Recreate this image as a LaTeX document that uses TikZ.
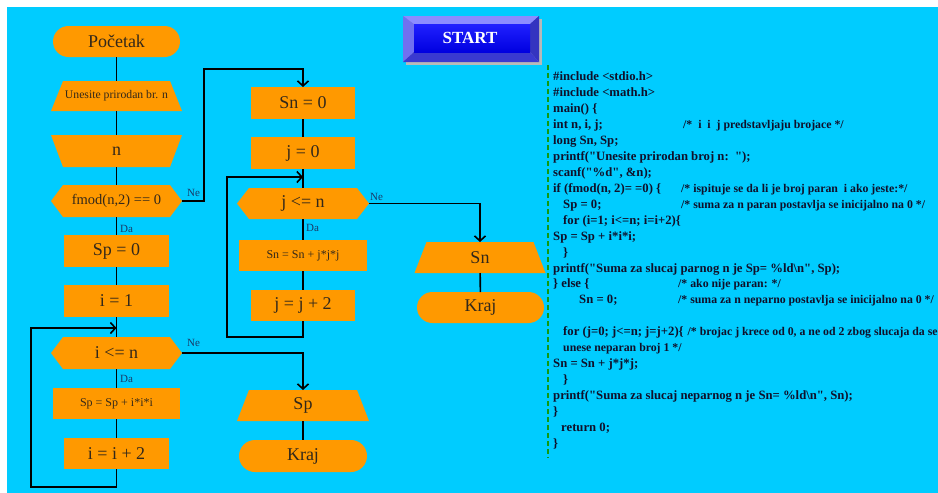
\documentclass[tikz,border=0pt]{standalone}
\usepackage{fontspec}
\setmainfont{Liberation Serif}
\usetikzlibrary{arrows.meta,calc,backgrounds}

\definecolor{bgcyan}{HTML}{00CCFF}
\definecolor{boxorange}{HTML}{FF9900}
\definecolor{boxtext}{HTML}{33281A}
\definecolor{labelblue}{HTML}{1A3A66}
\definecolor{codetext}{HTML}{10102A}
\definecolor{dashgreen}{HTML}{119911}
\definecolor{bevtop}{HTML}{8C8CFF}
\definecolor{bevleft}{HTML}{7070F0}
\definecolor{bevright}{HTML}{3434C0}
\definecolor{bevbot}{HTML}{3A3AD0}
\definecolor{facetop}{HTML}{2020FF}
\definecolor{facebot}{HTML}{0000E0}

% filled outlines for decision hexagons and input/output trapezoids
\newcommand{\hexfill}[1]{\fill[boxorange] (#1.west) -- ($(#1.north west)+(12,0)$) -- ($(#1.north east)+(-12,0)$) -- (#1.east) -- ($(#1.south east)+(-12,0)$) -- ($(#1.south west)+(12,0)$) -- cycle;}
\newcommand{\trapwidebottom}[1]{\fill[boxorange] ($(#1.north west)+(12,0)$) -- ($(#1.north east)+(-12,0)$) -- (#1.south east) -- (#1.south west) -- cycle;}
\newcommand{\trapwidetop}[1]{\fill[boxorange] (#1.north west) -- (#1.north east) -- ($(#1.south east)+(-12,0)$) -- ($(#1.south west)+(12,0)$) -- cycle;}
% straight double quote for the listing
\newcommand{\dq}{\textquotedbl}

\begin{document}
\begin{tikzpicture}[x=1pt,y=-1pt,
  base/.style={inner sep=0pt, outer sep=0pt, text=boxtext, align=center,
    font=\fontsize{18}{20}\selectfont},
  procbox/.style={base, fill=boxorange, minimum height=32pt},
  termbox/.style={base, fill=boxorange, rounded corners=15.5pt, minimum height=31pt},
  shapebox/.style={base, minimum width=131pt, minimum height=32pt},
  small/.style={font=\fontsize{12}{13}\selectfont},
  flow/.style={line width=1.6pt, draw=black},
  arrowflow/.style={flow, -{Straight Barb[length=5pt,width=11pt]}},
  lbl/.style={font=\fontsize{11}{12}\selectfont, text=labelblue, inner sep=0pt, anchor=west},
  code/.style={font=\bfseries\fontsize{12.7}{14}\selectfont, text=codetext, inner sep=0pt, anchor=base west},
  remark/.style={code, font=\bfseries\fontsize{11.8}{13}\selectfont}]

\useasboundingbox (0,0) rectangle (938,493);

% ---------- left column: even n ----------
\node[termbox, minimum width=127pt] (start) at (116.5,41.5) {Početak};
\node[shapebox, minimum height=30pt, font=\fontsize{11.7}{13}\selectfont] (in1) at (116.5,96) {Unesite prirodan br. n};
\node[shapebox] (in2) at (116.5,151) {n};
\node[shapebox, font=\fontsize{14.5}{16}\selectfont] (d1) at (116.5,201) {fmod(n,2) == 0};
\node[procbox, minimum width=105pt] (sp0) at (116.5,251) {Sp = 0};
\node[procbox, minimum width=105pt] (i1) at (116.5,301) {i = 1};
\node[shapebox] (d2) at (116.5,353) {i <= n};
\node[procbox, small, minimum width=127pt, minimum height=31pt] (body1) at (116.5,403.5) {Sp = Sp + i*i*i};
\node[procbox, minimum width=105pt, minimum height=31pt] (inc1) at (116.5,453.5) {i = i + 2};

\node[shapebox, minimum width=132pt, minimum height=31pt] (out1) at (303,405.5) {Sp};
\node[termbox, minimum width=128pt, minimum height=32pt, rounded corners=16pt] (end1) at (303,456) {Kraj};

% ---------- middle column: odd n ----------
\node[procbox, minimum width=104pt] (sn0) at (303,103) {Sn = 0};
\node[procbox, minimum width=104pt] (j0) at (303,153) {j = 0};
\node[shapebox, minimum width=132pt, minimum height=31pt] (d3) at (303,203.5) {j <= n};
\node[procbox, small, minimum width=128pt, minimum height=31pt] (body2) at (303,255.5) {Sn = Sn + j*j*j};
\node[procbox, minimum width=104pt, minimum height=31pt] (inc2) at (303,305.5) {j = j + 2};

\node[shapebox, minimum height=31pt] (out2) at (480,257.5) {Sn};
\node[termbox, minimum width=127pt] (end2) at (480.5,307.5) {Kraj};

% ---------- branch labels ----------
\node[lbl] (da1) at (120,229) {Da};
\node[lbl] (ne1) at (187,193) {Ne};
\node[lbl] (da2) at (120,379) {Da};
\node[lbl] (ne2) at (187,343) {Ne};
\node[lbl] (da3) at (306,228) {Da};
\node[lbl] (ne3) at (370,197) {Ne};

% ---------- connectors ----------
\coordinate (r1) at (204,69);
\coordinate (m1) at (116.5,328);
\coordinate (lb1) at (31,487);
\coordinate (m2) at (303,177);
\coordinate (lb2) at (227,337);

\draw[flow] (start) -- (in1) -- (in2) -- (d1) -- (sp0) -- (i1) -- (d2) -- (body1) -- (inc1);
\draw[flow] (sn0) -- (j0) -- (d3) -- (body2) -- (inc2);
\draw[flow] (out1) -- (end1);
\draw[flow] (out2) -- (end2);
\draw[arrowflow] (d1.east) -| (r1) -| (sn0.north);
\draw[arrowflow] (d2.east) -| (out1.north);
\draw[arrowflow] (d3.east) -| (out2.north);
\draw[arrowflow] (inc1.south) |- (lb1) |- (m1);
\draw[arrowflow] (inc2.south) |- (lb2) |- (m2);

% ---------- START button ----------
\fill[gray!55] (406,19) rectangle (542,65);
\fill[bevtop] (403,16) -- (539,16) -- (530,24) -- (414,24) -- cycle;
\fill[bevleft] (403,16) -- (414,24) -- (414,52) -- (403,62) -- cycle;
\fill[bevright] (539,16) -- (539,62) -- (530,52) -- (530,24) -- cycle;
\fill[bevbot] (403,62) -- (539,62) -- (530,52) -- (414,52) -- cycle;
\shade[top color=facetop, bottom color=facebot] (414,24) rectangle (530,52);
\node[font=\bfseries\fontsize{17}{18}\selectfont, text=white, inner sep=0pt] (startbtn) at (470,38) {START};

% ---------- C listing ----------
\coordinate (dtop) at (548,65);
\coordinate (dbot) at (548,458);
\draw[dashgreen, line width=1.8pt, dash pattern=on 5pt off 3pt] (dtop) -- (dbot);

\node[code] (c1) at (553,80.5) {\#include <stdio.h>};
\node[code] (c2) at (553,96.46) {\#include <math.h>};
\node[code] (c3) at (553,112.42) {main() \{};
\node[code] (c4) at (553,128.38) {int n, i, j;};
\node[remark] (c4c) at (683,128.38) {/*\ \ i\ \ i\ \ j predstavljaju brojace */};
\node[code] (c5) at (553,144.34) {long Sn, Sp;};
\node[code] (c6) at (553,160.3) {printf(\dq Unesite prirodan broj n:\ \ \dq);};
\node[code] (c7) at (553,176.26) {scanf(\dq\%d\dq, \&n);};
\node[code] (c8) at (553,192.22) {if (fmod(n, 2)= =0) \{};
\node[remark] (c8c) at (681,192.22) {/* ispituje se da li je broj paran\ \ i ako jeste:*/};
\node[code] (c9) at (563,208.18) {Sp = 0;};
\node[remark] (c9c) at (681,208.18) {/* suma za n paran postavlja se inicijalno na 0 */};
\node[code] (c10) at (563,224.14) {for (i=1; i<=n; i=i+2)\{};
\node[code] (c11) at (553,240.1) {Sp = Sp + i*i*i;};
\node[code] (c12) at (563,256.06) {\}};
\node[code] (c13) at (553,272.02) {printf(\dq Suma za slucaj parnog n je Sp= \%ld\textbackslash n\dq, Sp);};
\node[code] (c14) at (553,287.98) {\} else \{};
\node[remark] (c14c) at (678,287.98) {/* ako nije paran: */};
\node[code] (c15) at (579,303.94) {Sn = 0;};
\node[remark] (c15c) at (678,303.94) {/* suma za n neparno postavlja se inicijalno na 0 */};
\node[code] (c17) at (563,335.86) {for (j=0; j<=n; j=j+2)\{};
\node[remark, anchor=base west] (c17c) at ($(c17.base east)+(3.5,0)$) {/* brojac j krece od 0, a ne od 2 zbog slucaja da se};
\node[remark] (c18) at (563,351.82) {unese neparan broj 1 */};
\node[code] (c19) at (553,367.78) {Sn = Sn + j*j*j;};
\node[code] (c20) at (563,383.74) {\}};
\node[code] (c21) at (553,399.7) {printf(\dq Suma za slucaj neparnog n je Sn= \%ld\textbackslash n\dq, Sn);};
\node[code] (c22) at (553,415.66) {\}};
\node[code] (c23) at (561,431.62) {return 0;};
\node[code] (c24) at (553,447.58) {\}};

% ---------- backdrop and shape fills ----------
\begin{pgfonlayer}{background}
  \fill[white] (0,0) rectangle (938,493);
  \fill[bgcyan] (7,7) rectangle (938,493);
  \trapwidebottom{in1}
  \trapwidetop{in2}
  \hexfill{d1}
  \hexfill{d2}
  \hexfill{d3}
  \trapwidebottom{out1}
  \trapwidebottom{out2}
\end{pgfonlayer}
\end{tikzpicture}
\end{document}
